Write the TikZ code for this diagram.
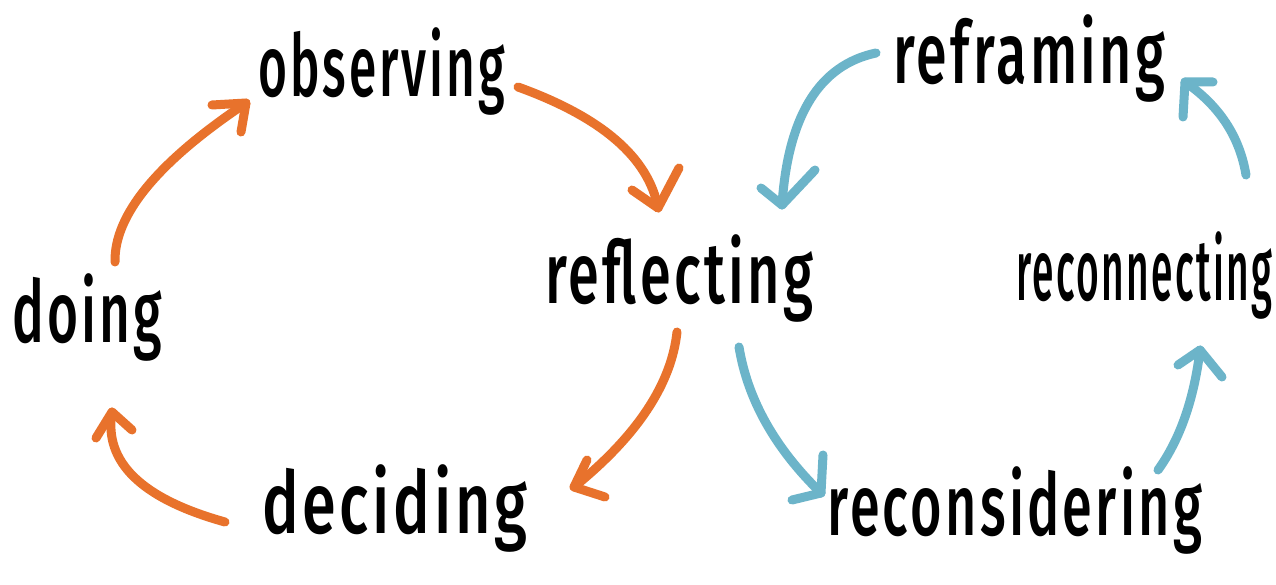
\documentclass[tikz,border=0pt]{standalone}
\usepackage{fontspec}
\setmainfont{Fira Sans}[UprightFont={* Medium}, LetterSpace=6]
\usetikzlibrary{calc}

\definecolor{cycleorange}{RGB}{232,114,44}
\definecolor{cycleblue}{RGB}{108,180,201}

% squeeze a word to a given width, stretching it a little upwards
\newcommand\wordbox[2]{\resizebox{#1pt}{1.08\height}{#2}}

% curved marker stroke with an open two-barb head:
% style, tail, bend point, tip, barb one, barb two
\newcommand\loopedge[6]{%
  \draw[#1] (#2) .. controls ($(#2)!2/3!(#3)$) and ($(#4)!2/3!(#3)$) .. (#4);
  \draw[#1] (#5) -- (#4) -- (#6);}

\tikzset{
  word/.style={inner sep=0pt, anchor=base west,
    font=\fontsize{80}{96}\selectfont},
  marker/.style={line width=9pt, line cap=round, line join=round},
  warm/.style={marker, draw=cycleorange},
  cool/.style={marker, draw=cycleblue},
}

\begin{document}
\begin{tikzpicture}[x=1pt, y=-1pt]
\useasboundingbox[fill=white] (0,0) rectangle (1276,585);

% the words
\node[word] (observing)     at (258,97)  {\wordbox{247}{observing}};
\node[word] (reflecting)    at (545,303) {\wordbox{268}{reflecting}};
\node[word] (doing)         at (12,342)  {\wordbox{150}{doing}};
\node[word] (deciding)      at (262,533) {\wordbox{265}{deciding}};
\node[word] (reframing)     at (893,84)  {\wordbox{272}{reframing}};
\node[word] (reconnecting)  at (1016,300){\wordbox{256}{reconnecting}};
\node[word] (reconsidering) at (827,535) {\wordbox{375}{reconsidering}};

% ends, bends and barbs of the strokes
% doing -> observing
\coordinate (a1t) at (115,262); \coordinate (a1q) at (113.5,191.5);
\coordinate (a1h) at (246,103); \coordinate (a1b) at (212,105); \coordinate (a1c) at (241,132);
% observing -> reflecting
\coordinate (a2t) at (518,87);  \coordinate (a2q) at (644,132.5);
\coordinate (a2h) at (658,208); \coordinate (a2b) at (632,190); \coordinate (a2c) at (679,168);
% reflecting -> deciding
\coordinate (a3t) at (677,332); \coordinate (a3q) at (668.5,410.5);
\coordinate (a3h) at (574,487); \coordinate (a3b) at (587,460); \coordinate (a3c) at (605,497);
% deciding -> doing
\coordinate (a4t) at (225,522); \coordinate (a4q) at (99.5,487);
\coordinate (a4h) at (112,412); \coordinate (a4b) at (96,438);  \coordinate (a4c) at (132,430);
% reframing -> reflecting
\coordinate (b1t) at (876,53);  \coordinate (b1q) at (791,71);
\coordinate (b1h) at (782,205); \coordinate (b1b) at (761,188); \coordinate (b1c) at (815,170);
% reconnecting -> reframing
\coordinate (b2t) at (1246,175); \coordinate (b2q) at (1236.5,117.5);
\coordinate (b2h) at (1185,82);  \coordinate (b2b) at (1183,117); \coordinate (b2c) at (1213,82);
% reflecting -> reconsidering
\coordinate (b3t) at (739,347); \coordinate (b3q) at (752,426);
\coordinate (b3h) at (821,493); \coordinate (b3b) at (792,500); \coordinate (b3c) at (823,455);
% reconsidering -> reconnecting
\coordinate (b4t) at (1158,470); \coordinate (b4q) at (1191,424);
\coordinate (b4h) at (1200,350); \coordinate (b4b) at (1178,365); \coordinate (b4c) at (1222,377);

% left loop
\loopedge{warm}{a1t}{a1q}{a1h}{a1b}{a1c}
\loopedge{warm}{a2t}{a2q}{a2h}{a2b}{a2c}
\loopedge{warm}{a3t}{a3q}{a3h}{a3b}{a3c}
\loopedge{warm}{a4t}{a4q}{a4h}{a4b}{a4c}
% right loop
\loopedge{cool}{b1t}{b1q}{b1h}{b1b}{b1c}
\loopedge{cool}{b2t}{b2q}{b2h}{b2b}{b2c}
\loopedge{cool}{b3t}{b3q}{b3h}{b3b}{b3c}
\loopedge{cool}{b4t}{b4q}{b4h}{b4b}{b4c}
\end{tikzpicture}
\end{document}
